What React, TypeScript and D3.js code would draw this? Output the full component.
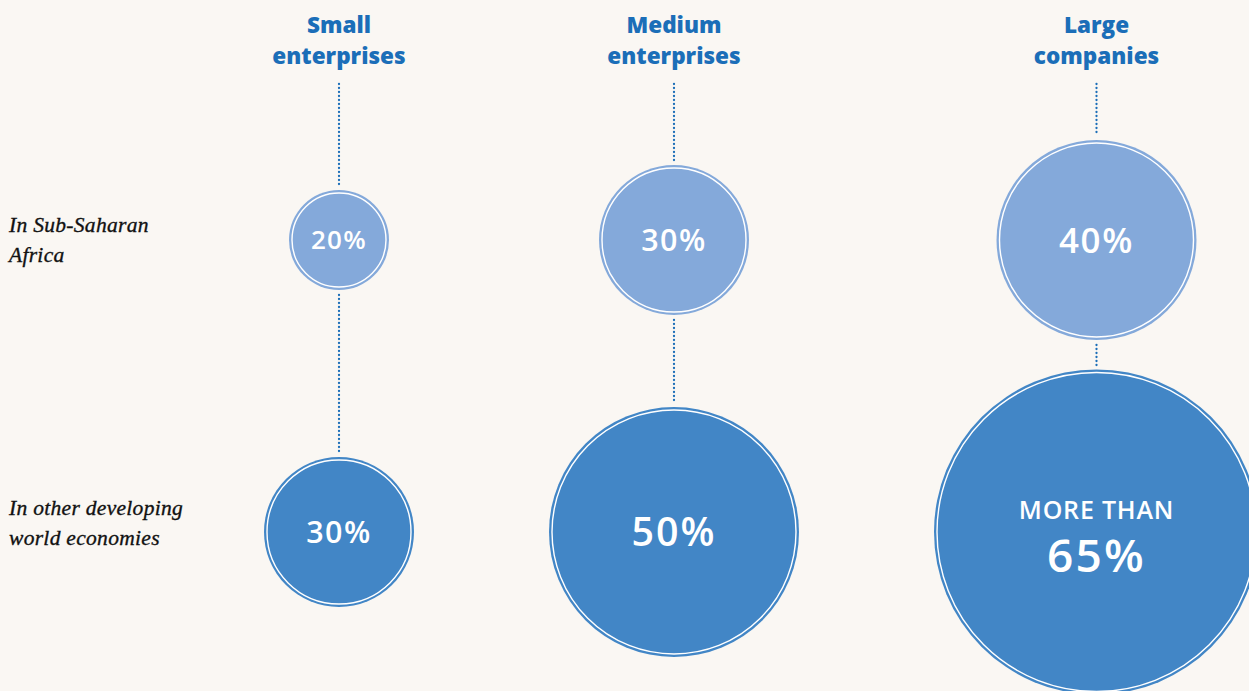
import React from "react";
import * as d3 from "d3";

const categories = ["Small enterprises", "Medium enterprises", "Large companies"];
const titleLines = [["Small", "enterprises"], ["Medium", "enterprises"], ["Large", "companies"]];
const rows = ["In Sub-Saharan Africa", "In other developing world economies"];
const rowLabelLines = [["In Sub-Saharan", "Africa"], ["In other developing", "world economies"]];
const subSaharan = [20, 30, 40];
const otherEconomies = [30, 50, 65];
const valueLabels = [["20%", "30%", "40%"], ["30%", "50%", "65%"]];
const prefixLabels = [["", "", ""], ["", "", "MORE THAN"]];

const W = 1249;
const H = 691;
const BG = "#faf7f3";
const TOP_FILL = "#84a9da";
const BOTTOM_FILL = "#4286c6";
const BLUE = "#1b6eb8";

export default function App() {
  const series = [subSaharan, otherEconomies];
  const maxV = d3.max(otherEconomies) as number;
  const r = d3.scaleLinear().domain([0, maxV]).range([0, 162.5]);
  const fontScale = d3.scaleLinear().domain([20, 65]).range([26, 46]);
  const y = d3.scalePoint<string>().domain(rows).range([240, 532]);

  // column positions packed by the largest circle in each column
  const maxR = categories.map((_, i) => r(Math.max(subSaharan[i], otherEconomies[i])));
  const gap = 135;
  const xs: number[] = [];
  maxR.forEach((mr, i) => {
    if (i === 0) xs.push(339);
    else xs.push(xs[i - 1] + maxR[i - 1] + gap + mr);
  });

  const dotted = {
    stroke: BLUE,
    strokeWidth: 2.3,
    strokeDasharray: "0 4",
    strokeLinecap: "round" as const,
  };

  return (
    <svg
      width={W}
      height={H}
      style={{ position: "absolute", left: 0, top: 0, background: BG }}
    >
      <rect x={0} y={0} width={W} height={H} fill={BG} />
      {rows.map((row, ri) => (
        <text
          key={row}
          x={9}
          y={(y(row) as number) - 8 - ri * 9}
          fontFamily="'Liberation Serif', serif"
          fontStyle="italic"
          fontSize={21.5}
          fill="#111111"
          stroke="#111111"
          strokeWidth={0.35}
          letterSpacing={0.3}
        >
          {rowLabelLines[ri].map((l, li) => (
            <tspan key={li} x={9} dy={li === 0 ? 0 : 30}>
              {l}
            </tspan>
          ))}
        </text>
      ))}
      {categories.map((cat, ci) => {
        const cx = xs[ci];
        const yTop = y(rows[0]) as number;
        const yBot = y(rows[1]) as number;
        const rTop = r(subSaharan[ci]);
        const rBot = r(otherEconomies[ci]);
        return (
          <g key={cat}>
            <text
              x={cx}
              y={33}
              textAnchor="middle"
              fontFamily="'Open Sans', sans-serif"
              fontWeight={800}
              fontSize={22.5}
              fill={BLUE}
            >
              {titleLines[ci].map((l, li) => (
                <tspan key={li} x={cx} dy={li === 0 ? 0 : 31}>
                  {l}
                </tspan>
              ))}
            </text>
            <line x1={cx} x2={cx} y1={84} y2={yTop - rTop - 4} style={dotted} />
            <line
              x1={cx}
              x2={cx}
              y1={yTop + rTop + 5}
              y2={yBot - rBot - 4}
              style={dotted}
            />
          </g>
        );
      })}
      {series.map((vals, si) =>
        vals.map((v, ci) => {
          const cx = xs[ci];
          const cy = y(rows[si]) as number;
          const rad = r(v);
          const fs = fontScale(v);
          const prefix = prefixLabels[si][ci];
          return (
            <g key={`${si}-${ci}`}>
              <circle
                cx={cx}
                cy={cy}
                r={rad}
                fill={si === 0 ? TOP_FILL : BOTTOM_FILL}
              />
              <circle
                cx={cx}
                cy={cy}
                r={rad - 3}
                fill="none"
                stroke="#ffffff"
                strokeWidth={1.4}
              />
              {prefix ? (
                <text
                  x={cx}
                  y={cy - 13}
                  textAnchor="middle"
                  fontFamily="'Open Sans', sans-serif"
                  fontWeight={600}
                  fontSize={25}
                  letterSpacing={0.8}
                  fill="#ffffff"
                >
                  {prefix}
                </text>
              ) : null}
              <text
                x={cx}
                y={prefix ? cy + 40 : cy + fs * 0.36}
                textAnchor="middle"
                fontFamily="'Open Sans', sans-serif"
                fontWeight={600}
                fontSize={fs}
                letterSpacing={fs * 0.05}
                fill="#ffffff"
              >
                {valueLabels[si][ci]}
              </text>
            </g>
          );
        })
      )}
    </svg>
  );
}
